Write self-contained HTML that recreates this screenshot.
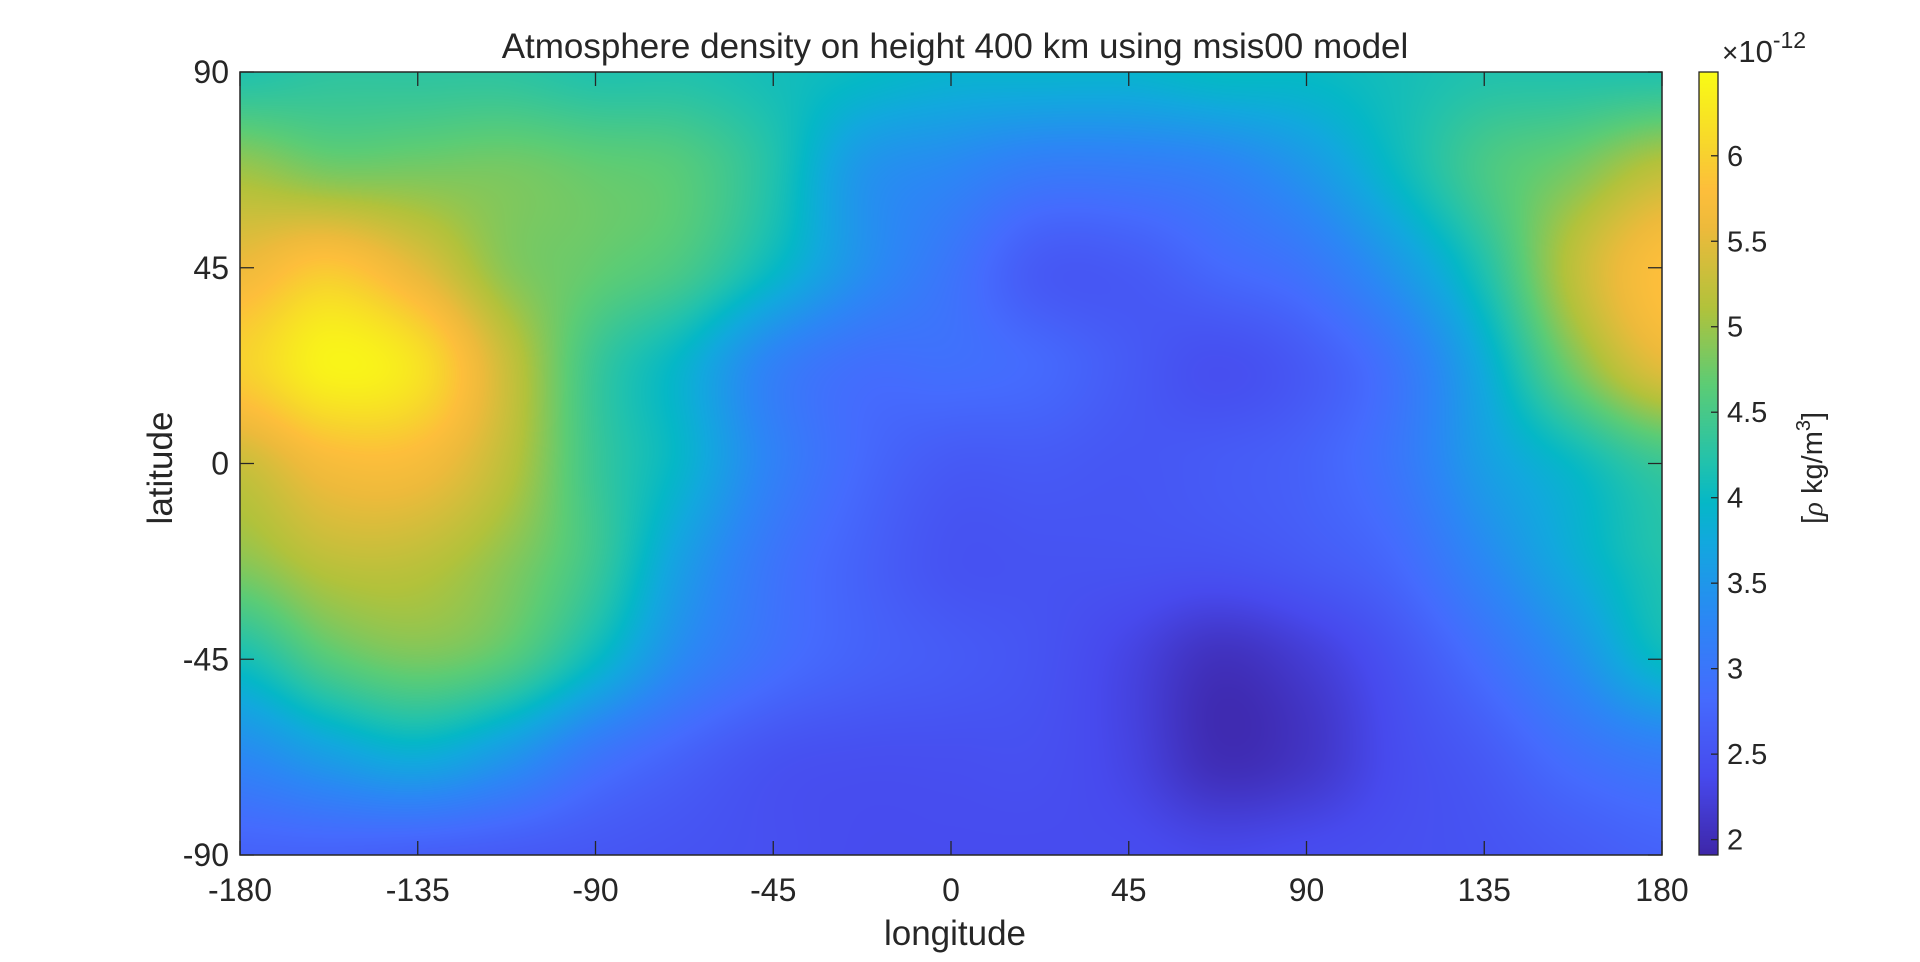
<!DOCTYPE html>
<html><head><meta charset="utf-8">
<style>
body{margin:0;background:#fff;width:1920px;height:962px;overflow:hidden;font-family:"Liberation Sans",Arial,sans-serif;}
svg text{fill:#262626;}
</style></head>
<body>
<div style="position:absolute;left:0;top:0;width:1920px;height:962px">
<canvas id="heat" width="1422" height="783" style="position:absolute;left:240px;top:72px"></canvas>
<canvas id="cbar" width="19" height="783" style="position:absolute;left:1699px;top:72px"></canvas>
<svg id="ov" width="1920" height="962" style="position:absolute;left:0;top:0"></svg>
</div>
<script>
const lats=[90,67.5,45,22.5,0,-22.5,-45,-67.5,-90];
const lons=[-180,-157.5,-135,-112.5,-90,-67.5,-45,-22.5,0,22.5,45,67.5,90,112.5,135,157.5,180];
const row90 =[4.2,4.3,4.3,4.3,4.2,4.2,4.1,4.0,3.9,3.9,3.9,4.0,4.0,4.1,4.2,4.2,4.2];
const row68 =[5.0,4.8,4.8,4.8,4.7,4.6,4.2,3.5,3.3,3.1,3.1,3.2,3.5,4.0,4.5,4.8,5.2];
const row45 =[5.6,5.9,5.5,4.9,4.7,4.5,4.0,3.4,3.0,2.6,2.6,2.8,3.0,3.5,4.2,5.2,5.8];
const row23 =[6.0,6.4,6.2,5.3,4.4,3.9,3.2,2.9,2.9,2.8,2.6,2.45,2.6,3.0,3.8,4.8,5.5];
const row0  =[5.3,5.7,5.7,5.2,4.4,3.9,3.2,2.8,2.6,2.6,2.55,2.6,2.7,3.0,3.6,4.0,4.4];
const rowm23=[4.9,5.2,5.2,4.9,4.4,3.6,3.0,2.7,2.5,2.5,2.5,2.5,2.6,2.8,3.3,3.8,4.2];
const rowm45=[4.1,4.6,4.8,4.6,4.0,3.3,2.9,2.7,2.6,2.5,2.3,2.05,2.2,2.5,2.9,3.4,4.0];
const rowm68=[3.3,3.6,3.8,3.5,3.0,2.7,2.5,2.45,2.45,2.45,2.3,2.0,2.1,2.4,2.6,2.9,3.1];
const rowm90=[2.7,2.7,2.65,2.6,2.55,2.5,2.45,2.4,2.4,2.4,2.4,2.35,2.4,2.45,2.5,2.6,2.7];
const grid=[row90,row68,row45,row23,row0,rowm23,rowm45,rowm68,rowm90];
const cmin=1.91,cmax=6.49;
const xticks=[-180,-135,-90,-45,0,45,90,135,180];
const yticks=[90,45,0,-45,-90];
const cticks=[2,2.5,3,3.5,4,4.5,5,5.5,6];
const ctickLabels=["2","2.5","3","3.5","4","4.5","5","5.5","6"];

const PL={x0:240,x1:1662,y0:72,y1:855};
const xs=v=>PL.x0+(v+180)/360*(PL.x1-PL.x0);
const ys=v=>PL.y0+(90-v)/180*(PL.y1-PL.y0);
const cs=v=>PL.y1-(v-cmin)/(cmax-cmin)*(PL.y1-PL.y0);

const parT=[0,0.1,0.2,0.3,0.4,0.45,0.5,0.6,0.7,0.8,0.85,0.9,1];
const parC=[[0.2422,0.1504,0.6603],[0.2783,0.2886,0.9306],[0.2700,0.4200,0.9950],[0.1700,0.5300,0.9600],[0.0700,0.6600,0.8700],[0.0200,0.7200,0.7800],[0.1300,0.7600,0.6800],[0.3600,0.8000,0.4600],[0.7000,0.7600,0.2300],[0.9300,0.7300,0.2300],[0.9934,0.7464,0.2316],[0.9700,0.8300,0.1800],[0.9769,0.9839,0.0805]];
function cmap(t){t=Math.max(0,Math.min(1,t));let i=0;while(i<parT.length-2&&t>parT[i+1])i++;
 const f=(t-parT[i])/(parT[i+1]-parT[i]);
 return parC[i].map((c,k)=>Math.round(255*(c+(parC[i+1][k]-c)*f)));}
function cr(p0,p1,p2,p3,t){return 0.5*(2*p1+(-p0+p2)*t+(2*p0-5*p1+4*p2-p3)*t*t+(-p0+3*p1-3*p2+p3)*t*t*t);}
function sample(la,lo){
 const nr=lats.length,nc=lons.length;
 const fr=(lats[0]-la)/(lats[0]-lats[nr-1])*(nr-1), fc=(lo-lons[0])/(lons[nc-1]-lons[0])*(nc-1);
 const r=Math.min(nr-2,Math.floor(fr)),c=Math.min(nc-2,Math.floor(fc));const tr=fr-r,tc=fc-c;
 const g=(i,j)=>grid[Math.max(0,Math.min(nr-1,i))][Math.max(0,Math.min(nc-1,j))];
 const rowv=i=>cr(g(i,c-1),g(i,c),g(i,c+1),g(i,c+2),tc);
 return cr(rowv(r-1),rowv(r),rowv(r+1),rowv(r+2),tr);
}
const hc=document.getElementById('heat'),hx=hc.getContext('2d');
const W=hc.width,H=hc.height,img=hx.createImageData(W,H);
for(let y=0;y<H;y++){const la=90-(y+0.5)/H*180;
 for(let x=0;x<W;x++){const lo=-180+(x+0.5)/W*360;const col=cmap((sample(la,lo)-cmin)/(cmax-cmin));
  const o=(y*W+x)*4;img.data[o]=col[0];img.data[o+1]=col[1];img.data[o+2]=col[2];img.data[o+3]=255;}}
hx.putImageData(img,0,0);
const cc=document.getElementById('cbar'),cx=cc.getContext('2d');
for(let y=0;y<cc.height;y++){const col=cmap(1-(y+0.5)/cc.height);cx.fillStyle=`rgb(${col})`;cx.fillRect(0,y,cc.width,1);}

const S='http://www.w3.org/2000/svg',ov=document.getElementById('ov');
function el(t,a,txt){const e=document.createElementNS(S,t);for(const k in a)e.setAttribute(k,a[k]);if(txt!==undefined)e.textContent=txt;ov.appendChild(e);return e;}
let e;
e=el('rect',{x:PL.x0,y:PL.y0,width:PL.x1-PL.x0,height:PL.y1-PL.y0,fill:'none',stroke:'#262626','stroke-width':1.5});


xticks.forEach(v=>{const x=xs(v);
 e=el('path',{d:`M${x},${PL.y1}V${PL.y1-14}M${x},${PL.y0}V${PL.y0+14}`,stroke:'#262626','stroke-width':1.3});
 
 
 e=el('text',{x:x,y:901,'font-size':32,'text-anchor':'middle'},String(v));
 
 });
yticks.forEach(v=>{const y=ys(v);
 e=el('path',{d:`M${PL.x0},${y}H${PL.x0+14}M${PL.x1},${y}H${PL.x1-14}`,stroke:'#262626','stroke-width':1.3});
 
 
 e=el('text',{x:229,y:y+11,'font-size':32,'text-anchor':'end'},String(v));
 
 });
e=el('text',{x:955,y:58,'font-size':35,'text-anchor':'middle'},'Atmosphere density on height 400 km using msis00 model');


e=el('text',{x:955,y:945,'font-size':35,'text-anchor':'middle'},'longitude');


e=el('text',{x:0,y:0,'font-size':35,'text-anchor':'middle',transform:'translate(172,468) rotate(-90)'},'latitude');


e=el('rect',{x:1699,y:PL.y0,width:19,height:PL.y1-PL.y0,fill:'none',stroke:'#262626','stroke-width':1.3});


cticks.forEach((v,i)=>{const y=cs(v);
 e=el('path',{d:`M1718,${y}H1711`,stroke:'#262626','stroke-width':1.3});
 
 
 e=el('text',{x:1727,y:y+10,'font-size':29},ctickLabels[i]);
 
 });
e=el('text',{x:1722,y:62,'font-size':31},'');


e.innerHTML='<tspan font-size="28">×</tspan>10<tspan dy="-14" font-size="23">-12</tspan>';
e=el('text',{x:0,y:0,'font-size':29,'text-anchor':'middle',transform:'translate(1822,468) rotate(-90)'},'');


e.innerHTML='[<tspan font-style="italic" font-family="Liberation Serif">ρ</tspan> kg/m<tspan dy="-12" font-size="20">3</tspan><tspan dy="12">]</tspan>';
</script>
</body></html>
